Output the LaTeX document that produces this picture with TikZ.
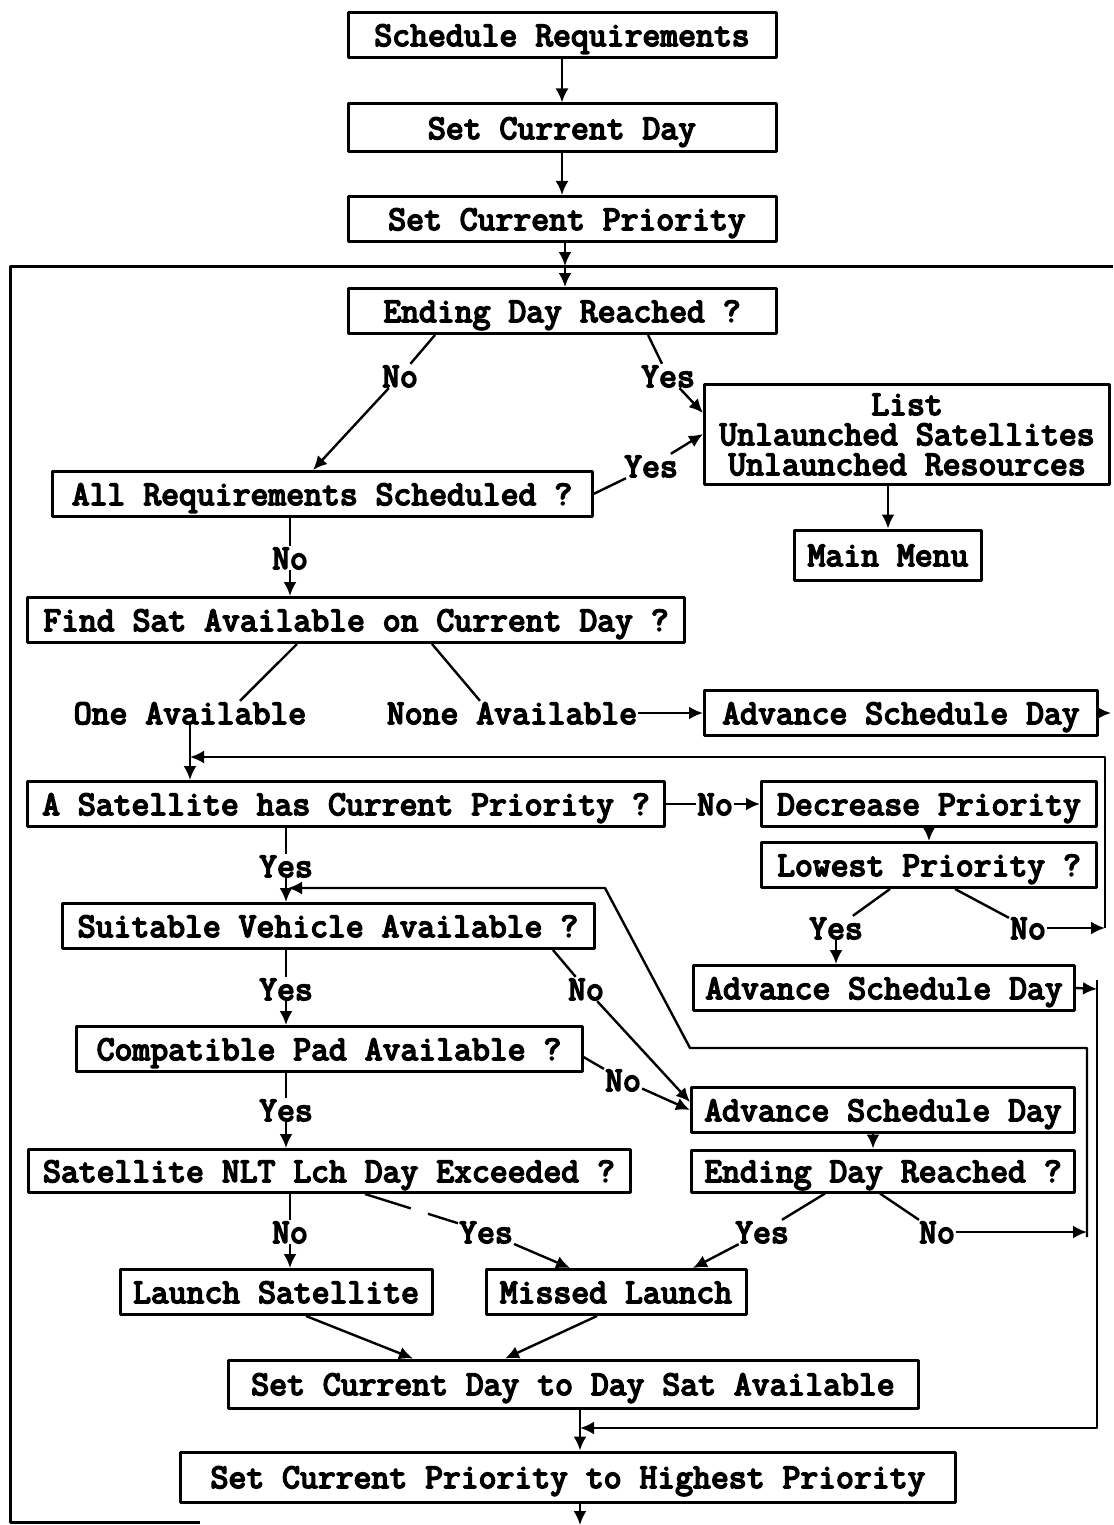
\documentclass[tikz,border=0pt]{standalone}
\usepackage{fontspec}
\setmainfont{Latin Modern Mono}[FakeBold=5]
\usepackage{tikz}
\usetikzlibrary{arrows.meta}

\begin{document}
\begin{tikzpicture}[>={Latex[length=14pt,width=13pt]},line join=bevel,x=1pt,y=-1pt,
        font=\fontsize{34.7}{34}\selectfont,
        box/.style={rectangle,draw,line width=3pt,minimum height=45pt,inner sep=0pt,align=center,text height=22pt,text depth=0pt},
        lbl/.style={inner sep=1pt,text height=22pt,text depth=0pt},
        conn/.style={line width=2.4pt}]
            \useasboundingbox (0,0) rectangle (1113,1525);
            %
            \node (sched) at (562,35) [box,minimum width=428pt] {Schedule Requirements};
            \node (setday) at (562,128) [box,minimum width=428pt,minimum height=48pt] {Set Current Day};
            \node (setprio) at (562,219) [box,minimum width=428pt] {\hspace*{10pt}Set Current Priority};
            \node (enday) at (562,311) [box,minimum width=428pt] {Ending Day Reached ?};
            \node (list) at (907,434) [box,minimum width=405pt,minimum height=100pt,text height=82pt,font=\fontsize{34.7}{30}\selectfont] {List\\Unlaunched Satellites\\Unlaunched Resources};
            \node (allreq) at (322,494) [box,minimum width=540pt] {All Requirements Scheduled ?};
            \node (menu) at (888,555) [box,minimum width=187pt,minimum height=50pt] {Main Menu};
            \node (findsat) at (356,620) [box,minimum width=657pt] {Find Sat Available on Current Day ?};
            \node (adv1) at (901,713) [box,minimum width=393pt] {Advance Schedule Day};
            \node (asat) at (346,804) [box,minimum width=637pt] {A Satellite has Current Priority ?};
            \node (decr) at (929,804) [box,minimum width=335pt] {Decrease Priority};
            \node (lowest) at (929,865) [box,minimum width=335pt] {Lowest Priority ?};
            \node (suit) at (328,926) [box,minimum width=532pt] {Suitable Vehicle Available ?};
            \node (adv2) at (884,988) [box,minimum width=381pt] {Advance Schedule Day};
            \node (compat) at (329,1049) [box,minimum width=506pt] {Compatible Pad Available ?};
            \node (adv3) at (883,1110) [box,minimum width=383pt] {Advance Schedule Day};
            \node (enday2) at (883,1171) [box,minimum width=383pt,minimum height=42pt] {Ending Day Reached ?};
            \node (nlt) at (329,1171) [box,minimum width=602pt,minimum height=43pt] {Satellite NLT Lch Day Exceeded ?};
            \node (launch) at (276,1292) [box,minimum width=312pt] {Launch Satellite};
            \node (missed) at (616,1292) [box,minimum width=260pt] {Missed Launch};
            \node (setday2) at (573,1384) [box,minimum width=690pt,minimum height=48pt] {Set Current Day to Day Sat Available};
            \node (setprio2) at (568,1477) [box,minimum width=775pt,minimum height=50pt] {Set Current Priority to Highest Priority};
            %
            \node (noEnd) at (400,376) [lbl] {No};
            \node (yesEnd) at (668,376) [lbl] {Yes};
            \node (yesAll) at (651,466) [lbl] {Yes};
            \node (noAll) at (290,558) [lbl] {No};
            \node (oneAv) at (190,713) [lbl] {One Available};
            \node (noneAv) at (512,713) [lbl] {None Available};
            \node (noSat) at (715,804) [lbl] {No};
            \node (yesSat) at (286,866) [lbl] {Yes};
            \node (yesLow) at (836,928) [lbl] {Yes};
            \node (noLow) at (1028,928) [lbl] {No};
            \node (yesVeh) at (286,989) [lbl] {Yes};
            \node (noVeh) at (586,989) [lbl] {No};
            \node (noPad) at (623,1080) [lbl] {No};
            \node (yesPad) at (286,1110) [lbl] {Yes};
            \node (noNlt) at (290,1232) [lbl] {No};
            \node (yesNlt) at (486,1232) [lbl] {Yes};
            \node (yesEnd2) at (762,1232) [lbl] {Yes};
            \node (noEnd2) at (937,1232) [lbl] {No};
            %
            \coordinate (topj) at (565,266);
            \coordinate (topr) at (1113,266);
            \coordinate (lcorner) at (10,1522);
            \coordinate (lb) at (200,1522);
            \coordinate (botj) at (580,1525);
            \coordinate (ajoin) at (190,757);
            \coordinate (rloop) at (1105,928);
            \coordinate (sjoin) at (288,888);
            \coordinate (rj2) at (1097,989);
            \coordinate (pjoin) at (580,1428);
            \coordinate (nojoin) at (1087,1232);
            \coordinate (rtop) at (1087,1048);
            \coordinate (bend1) at (690,1048);
            \coordinate (bend2) at (605,888);
            %
            \draw [color=black,conn,->] (sched) to (setday);
            \draw [color=black,conn,->] (setday) to (setprio);
            \draw [color=black,conn,->] (setprio.south -| topj) to (topj);
            \draw [color=black,conn,->] (topj) to (enday.north -| topj);
            \draw [color=black,line width=3pt] (lb) -- (lcorner) |- (topr);
            \draw [color=black,conn] ([xshift=-127pt]enday.south) to (noEnd);
            \draw [color=black,conn,->] (noEnd) to ([xshift=-9pt]allreq.north);
            \draw [color=black,conn] ([xshift=86pt]enday.south) to (yesEnd);
            \draw [color=black,conn,->] (yesEnd) to ([yshift=21pt]list.west);
            \draw [color=black,conn] (allreq.east) to (yesAll);
            \draw [color=black,conn,->] (yesAll) to (list.west);
            \draw [color=black,conn,->] (list.south -| menu) to (menu);
            \draw [color=black,conn] (allreq.south -| noAll) to (noAll);
            \draw [color=black,conn,->] (noAll) to (findsat.north -| noAll);
            \draw [color=black,conn] ([xshift=-59pt]findsat.south) to ([xshift=50pt]oneAv.north);
            \draw [color=black,conn] ([xshift=76pt]findsat.south) to ([xshift=-32pt]noneAv.north);
            \draw [color=black,conn,->] (noneAv) to (adv1);
            \draw [color=black,conn,->] (adv1.east) to ++(12,0);
            \draw [color=black,conn,->] (oneAv.south) to (asat.north -| oneAv);
            \draw [color=black,conn] (asat) to (noSat);
            \draw [color=black,conn,->] (noSat) to (decr);
            \draw [color=black,conn,->] (decr) to (lowest);
            \draw [color=black,conn] ([xshift=-39pt]lowest.south) to (yesLow);
            \draw [color=black,conn,->] (yesLow) to (adv2.north -| yesLow);
            \draw [color=black,conn] ([xshift=26pt]lowest.south) to (noLow);
            \draw [color=black,conn,->] (noLow) to (rloop);
            \draw [color=black,conn,->] (rloop) |- (ajoin);
            \draw [color=black,conn] (asat.south -| yesSat) to (yesSat);
            \draw [color=black,conn,->] (yesSat) to (suit.north -| yesSat);
            \draw [color=black,conn] (suit.south -| yesVeh) to (yesVeh);
            \draw [color=black,conn,->] (yesVeh) to (compat.north -| yesVeh);
            \draw [color=black,conn] ([xshift=225pt]suit.south) to (noVeh);
            \draw [color=black,conn,->] (noVeh) to ([yshift=8pt]adv3.west);
            \draw [color=black,conn] ([yshift=-8pt]compat.east) to (noPad);
            \draw [color=black,conn,->] (noPad) to (adv3.west);
            \draw [color=black,conn,->] (adv2.east) to (rj2);
            \draw [color=black,conn,->] ([yshift=9pt]rj2) |- (pjoin);
            \draw [color=black,conn] (compat.south -| yesPad) to (yesPad);
            \draw [color=black,conn,->] (yesPad) to (nlt.north -| yesPad);
            \draw [color=black,conn,->] ([xshift=-10pt]adv3.south) to ([xshift=-10pt]enday2.north);
            \draw [color=black,conn] ([xshift=-58pt]enday2.south) to (yesEnd2);
            \draw [color=black,conn,->] (yesEnd2) to ([xshift=77pt]missed.north);
            \draw [color=black,conn] ([xshift=-3pt]enday2.south) to (noEnd2);
            \draw [color=black,conn,->] (noEnd2) to (nojoin);
            \draw [color=black,conn,->] ([yshift=-5pt]nojoin) -- (rtop) -- (bend1) -- (bend2) -- (sjoin);
            \draw [color=black,conn] (nlt.south -| noNlt) to (noNlt);
            \draw [color=black,conn,->] (noNlt) to (launch.north -| noNlt);
            \draw [color=black,conn,dash pattern=on 48pt off 18pt] ([xshift=36pt]nlt.south) to (yesNlt);
            \draw [color=black,conn,->] (yesNlt) to ([xshift=-46pt]missed.north);
            \draw [color=black,conn,->] ([xshift=30pt]launch.south) to ([xshift=-160pt]setday2.north);
            \draw [color=black,conn,->] ([xshift=-19pt]missed.south) to ([xshift=-68pt]setday2.north);
            \draw [color=black,conn,->] (setday2.south -| pjoin) to (setprio2.north -| pjoin);
            \draw [color=black,conn,->] (setprio2.south -| botj) to (botj);
            %
        \end{tikzpicture}
\end{document}
